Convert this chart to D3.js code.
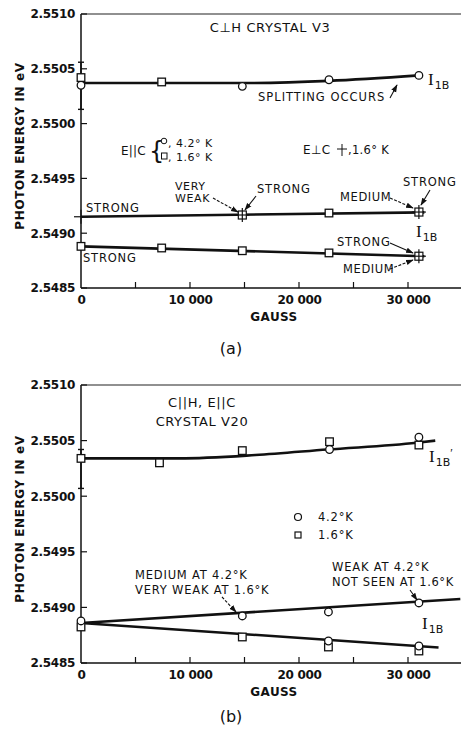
<!DOCTYPE html>
<html><head><meta charset="utf-8">
<script src="https://cdn.jsdelivr.net/npm/d3@7"></script>
<style>
body{margin:0;background:#fff;}
text{font-family:"DejaVu Sans",sans-serif;fill:#111;}
</style></head><body>
<svg id="c" width="461" height="733"></svg>
<script>
// ---------- DATA ----------
const yTicks = [2.5485, 2.5490, 2.5495, 2.5500, 2.5505, 2.5510];
const yTickLabels = ["2.5485","2.5490","2.5495","2.5500","2.5505","2.5510"];
const xMinorTicks = [5000,10000,15000,20000,25000,30000];
const xTickValues = [0,10000,20000,30000];
const xTickLabels = ["0","10 000","20 000","30 000"];

// Panel (a): C⊥H crystal V3
const aUpperLine    = [[0,2.55037],[14800,2.55037],[22750,2.55039],[31000,2.55044]];
const aUpperCircles = [[0,2.55035],[14800,2.55034],[22750,2.5504],[31000,2.55044]];
const aUpperSquares = [[0,2.55042],[7400,2.55038]];
const aUpperErr     = [[0,2.55013,2.55056]];
const aMidLine      = [[0,2.54915],[31500,2.54919]];
const aMidPlus      = [[0,2.54915]];
const aMidCross     = [[14800,2.549166],[31000,2.549193]];
const aMidSquares   = [[22750,2.549184]];
const aLowLine      = [[0,2.54888],[31500,2.54879]];
const aLowSquares   = [[0,2.54888],[7400,2.548865],[14800,2.54884],[22750,2.54882]];
const aLowCross     = [[31000,2.54879]];

// Panel (b): C||H, E||C crystal V20
const bUpperLine    = [[0,2.55034],[9000,2.55034],[16000,2.55037],[22600,2.55042],[30800,2.55048],[32500,2.5505]];
const bUpperCircles = [[22800,2.55042],[31000,2.55053]];
const bUpperSquares = [[0,2.55034],[7200,2.5503],[14800,2.55041],[22800,2.55049],[31000,2.55046]];
const bUpperErr     = [[0,2.55007,2.55042]];
const bBranchUp     = [[0,2.54886],[34800,2.549076]];
const bBranchDown   = [[0,2.54886],[32800,2.54864]];
const bLowCircles   = [[0,2.548878],[14800,2.548923],[22700,2.548959],[31000,2.54904],[22700,2.548698],[31000,2.548653]];
const bLowSquares   = [[0,2.548824],[14800,2.548734],[22700,2.548644],[31000,2.548608]];

// ---------- DRAW ----------
const svg = d3.select("#c");
const x = d3.scaleLinear().domain([0,35000]).range([81,462.5]);

function panel(top, bottom){
  const y = d3.scaleLinear().domain([2.5485,2.5510]).range([bottom, top]);
  const g = svg.append("g");
  g.append("line").attr("x1",x(0)).attr("x2",x(0)).attr("y1",y(2.5510)).attr("y2",y(2.5485)).attr("stroke","#111").attr("stroke-width",1.5);
  g.append("line").attr("x1",x(0)).attr("x2",461).attr("y1",y(2.5510)).attr("y2",y(2.5510)).attr("stroke","#222").attr("stroke-width",1.2);
  const xa = d3.axisBottom(x).tickValues(xTickValues).tickFormat((d,i)=>xTickLabels[i]).tickSize(0).tickPadding(7);
  const xg = g.append("g").attr("transform",`translate(0,${y(2.5485)})`).call(xa);
  xg.select(".domain").remove();
  xg.selectAll("text").attr("font-size",12).attr("fill","#111").attr("font-weight","bold").style("letter-spacing","-0.3px");
  g.append("line").attr("x1",x(0)).attr("x2",461).attr("y1",y(2.5485)).attr("y2",y(2.5485)).attr("stroke","#111").attr("stroke-width",1.5);
  g.selectAll(".mt").data(xMinorTicks).enter().append("line")
    .attr("x1",d=>x(d)).attr("x2",d=>x(d)).attr("y1",y(2.5485)).attr("y2",y(2.5485)-6).attr("stroke","#111").attr("stroke-width",1.2);
  const ya = d3.axisLeft(y).tickValues(yTicks).tickFormat((d,i)=>yTickLabels[i]).tickSize(0).tickPadding(6);
  const yg = g.append("g").attr("transform",`translate(${x(0)},0)`).call(ya);
  yg.select(".domain").remove();
  yg.selectAll("text").attr("font-size",12).attr("fill","#111").attr("font-weight","bold").style("letter-spacing","-0.3px");
  g.selectAll(".yt").data(yTicks).enter().append("line")
    .attr("x1",x(0)).attr("x2",x(0)+6).attr("y1",d=>y(d)).attr("y2",d=>y(d)).attr("stroke","#111").attr("stroke-width",1.2);
  const yl = (top+bottom)/2 - 5;
  g.append("text").attr("transform",`translate(24,${yl}) rotate(-90)`).attr("text-anchor","middle")
    .attr("font-size",12).attr("font-weight","bold").style("letter-spacing","0.6px").text("PHOTON ENERGY IN eV");
  g.append("text").attr("x",274).attr("y",bottom+33).attr("text-anchor","middle").attr("font-size",12).attr("font-weight","bold").style("letter-spacing","0.4px").text("GAUSS");
  return {g,y};
}

const line = (y)=>d3.line().curve(d3.curveMonotoneX).x(d=>x(d[0])).y(d=>y(d[1]));
function drawLine(p, data){
  p.g.append("path").datum(data).attr("d",line(p.y)).attr("fill","none").attr("stroke","#111").attr("stroke-width",2.6);
}
function circles(p, data){
  p.g.selectAll(null).data(data).enter().append("circle").attr("cx",d=>x(d[0])).attr("cy",d=>p.y(d[1])).attr("r",3.8)
    .attr("fill","#fff").attr("stroke","#111").attr("stroke-width",1.3);
}
function squares(p, data){
  p.g.selectAll(null).data(data).enter().append("rect").attr("x",d=>x(d[0])-3.8).attr("y",d=>p.y(d[1])-3.8).attr("width",7.6).attr("height",7.6)
    .attr("fill","#fff").attr("stroke","#111").attr("stroke-width",1.3);
}
function crosses(p, data, withBox){
  const gg = p.g.selectAll(null).data(data).enter().append("g").attr("transform",d=>`translate(${x(d[0])},${p.y(d[1])})`);
  if(withBox) gg.append("rect").attr("x",-4).attr("y",-4).attr("width",8).attr("height",8).attr("fill","#fff").attr("stroke","#111").attr("stroke-width",1.2);
  gg.append("line").attr("x1",-7).attr("x2",7).attr("y1",0).attr("y2",0).attr("stroke","#111").attr("stroke-width",1.2);
  gg.append("line").attr("x1",0).attr("x2",0).attr("y1",-7).attr("y2",7).attr("stroke","#111").attr("stroke-width",1.2);
}
function errbars(p, data){
  data.forEach(d=>{
    const xx = x(d[0]);
    p.g.append("line").attr("x1",xx).attr("x2",xx).attr("y1",p.y(d[1])).attr("y2",p.y(d[2])).attr("stroke","#111").attr("stroke-width",1.6);
    [d[1],d[2]].forEach(v=>p.g.append("line").attr("x1",xx-3).attr("x2",xx+3).attr("y1",p.y(v)).attr("y2",p.y(v)).attr("stroke","#111").attr("stroke-width",1.4));
  });
}
svg.append("defs").append("marker").attr("id","ah").attr("viewBox","0 0 10 10").attr("refX",9).attr("refY",5)
  .attr("markerWidth",7).attr("markerHeight",7).attr("orient","auto-start-reverse")
  .append("path").attr("d","M0,1.5 L10,5 L0,8.5 Z").attr("fill","#111");
function arrow(x1,y1,x2,y2,dashed){
  svg.append("line").attr("x1",x1).attr("y1",y1).attr("x2",x2).attr("y2",y2).attr("stroke","#111").attr("stroke-width",1.1)
    .attr("stroke-dasharray",dashed?"3,1.5":null).attr("marker-end","url(#ah)");
}
function label(tx,ty,s,size,anchor,extra){
  return svg.append("text").attr("x",tx).attr("y",ty).attr("font-size",size||11).attr("text-anchor",anchor||"start")
    .style("letter-spacing",(extra!=null?extra:0.5)+"px").text(s);
}
function ilabel(tx,ty,sub,prime){
  const t = svg.append("text").attr("x",tx).attr("y",ty);
  t.append("tspan").attr("font-family","Liberation Serif, serif").attr("font-size",17).text("I");
  t.append("tspan").attr("font-size",11).attr("dy",4).attr("dx",1).text(sub);
  if(prime) t.append("tspan").attr("font-size",12).attr("dy",-9).attr("dx",0).attr("font-family","Liberation Serif, serif").text("\u2032");
}

// ----- Panel (a) -----
const pa = panel(14, 288);
errbars(pa, aUpperErr);
drawLine(pa, aUpperLine); drawLine(pa, aMidLine); drawLine(pa, aLowLine);
circles(pa, aUpperCircles); squares(pa, aUpperSquares);
crosses(pa, aMidPlus, false); crosses(pa, aMidCross, true); squares(pa, aMidSquares);
squares(pa, aLowSquares); crosses(pa, aLowCross, true);

label(270,32,"C\u22a5H  CRYSTAL V3",13,"middle",0.6);
ilabel(428,85,"1B");
label(258,101,"SPLITTING OCCURS",11.5,"start",1.0);
arrow(390,98,397,85,false);
label(121,155,"E||C",12,"start",0.2);
svg.append("text").attr("x",149).attr("y",159).attr("font-size",24).attr("font-family","Liberation Serif, serif").text("{");
svg.append("circle").attr("cx",164).attr("cy",141).attr("r",2.8).attr("fill","none").attr("stroke","#111");
label(168,147,", 4.2\u00b0 K",11,"start",0.5);
svg.append("rect").attr("x",161.5).attr("y",153).attr("width",5.5).attr("height",6).attr("fill","none").attr("stroke","#111");
label(168,161,", 1.6\u00b0 K",11,"start",0.5);
label(303,154,"E\u22a5C",12,"start",0.3);
svg.append("line").attr("x1",337).attr("x2",347).attr("y1",149).attr("y2",149).attr("stroke","#111");
svg.append("line").attr("x1",342).attr("x2",342).attr("y1",144).attr("y2",156).attr("stroke","#111");
label(348,154,",1.6\u00b0 K",11.5,"start",0.3);

label(86,212,"STRONG",11.5,"start",0.8);
label(175,190,"VERY",11,"start",0.6);
label(175,202,"WEAK",11,"start",0.6);
arrow(213,198,238,212,true);
label(257,193,"STRONG",11.5,"start",0.8);
arrow(256,196,245,210,false);
label(340,201,"MEDIUM",11.5,"start",0.6);
arrow(390,198,413,208,true);
label(403,186,"STRONG",11.5,"start",0.8);
arrow(430,190,421,205,false);
ilabel(416,237,"1B");
label(83,262,"STRONG",11.5,"start",0.8);
label(337,246,"STRONG",11.5,"start",0.8);
arrow(390,243,413,253,false);
label(343,273,"MEDIUM",11.5,"start",0.6);
arrow(390,269,413,260,true);
svg.append("text").attr("x",231).attr("y",354).attr("text-anchor","middle").attr("font-family","Liberation Serif, serif").attr("font-size",16).text("(a)");

// ----- Panel (b) -----
const pb = panel(385, 663);
errbars(pb, bUpperErr);
drawLine(pb, bUpperLine); drawLine(pb, bBranchUp); drawLine(pb, bBranchDown);
squares(pb, bUpperSquares); circles(pb, bUpperCircles);
squares(pb, bLowSquares); circles(pb, bLowCircles);

label(202,407,"C||H, E||C",13,"middle",0.6);
label(202,426,"CRYSTAL V20",13,"middle",0.6);
ilabel(429,462,"1B",true);
svg.append("circle").attr("cx",298).attr("cy",517).attr("r",3.5).attr("fill","none").attr("stroke","#111").attr("stroke-width",1.2);
label(318,521,"4.2\u00b0K",11.5,"start",0.8);
svg.append("rect").attr("x",295).attr("y",532).attr("width",6).attr("height",6).attr("fill","none").attr("stroke","#111").attr("stroke-width",1.2);
label(318,539,"1.6\u00b0K",11.5,"start",0.8);
label(135,579,"MEDIUM  AT 4.2\u00b0K",11.5,"start",0.8);
label(135,594,"VERY WEAK AT 1.6\u00b0K",11.5,"start",0.8);
arrow(222,597,236,612,true);
label(332,571,"WEAK AT 4.2\u00b0K",11.5,"start",0.8);
label(332,586,"NOT SEEN AT 1.6\u00b0K",11.5,"start",0.6);
arrow(410,590,417,600,false);
ilabel(422,629,"1B");
svg.append("text").attr("x",231).attr("y",722).attr("text-anchor","middle").attr("font-family","Liberation Serif, serif").attr("font-size",16).text("(b)");
</script></body></html>
